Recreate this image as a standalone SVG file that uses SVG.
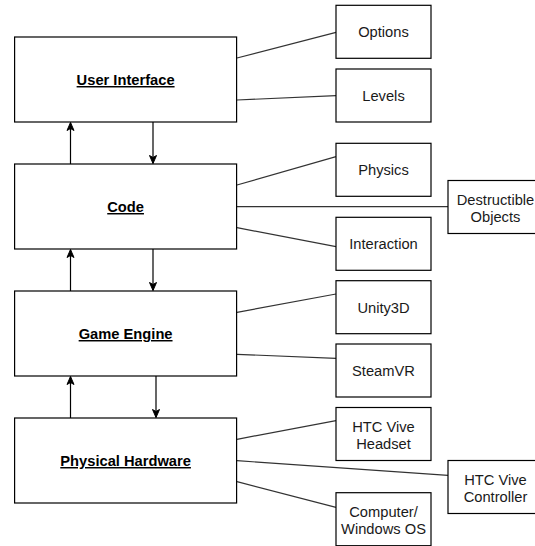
<svg xmlns="http://www.w3.org/2000/svg" width="535" height="546" viewBox="0 0 535 546">
<style>
  .box { fill: #ffffff; stroke: #000000; stroke-width: 1.2; }
  .main { font-family: "Liberation Sans", Arial, sans-serif; font-size: 14.7px; font-weight: bold; text-decoration: underline; fill: #000; text-anchor: middle; }
  .lbl { font-family: "Liberation Sans", Arial, sans-serif; font-size: 14.7px; fill: #1a1a1a; text-anchor: middle; }
  .link { stroke: #333333; stroke-width: 1.2; fill: none; }
  .arr { stroke: #000000; stroke-width: 1.2; fill: none; marker-end: url(#ah); }
</style>
<defs>
  <marker id="ah" markerWidth="10" markerHeight="10" viewBox="0 0 10 10" refX="9" refY="5" orient="auto" markerUnits="userSpaceOnUse">
    <path d="M1,1.5 L9,5 L1,8.5 L3,5 Z" fill="#000" stroke="#000" stroke-width="1"/>
  </marker>
</defs>
<rect width="535" height="546" fill="#ffffff"/>

<g id="connectors">
  <line class="link" x1="237" y1="58" x2="336" y2="32.3"/>
  <line class="link" x1="237" y1="100" x2="336" y2="95.7"/>
  <line class="link" x1="237" y1="185" x2="336" y2="156.7"/>
  <line class="link" x1="237" y1="206.7" x2="448" y2="206.7"/>
  <line class="link" x1="237" y1="227.7" x2="336" y2="246.7"/>
  <line class="link" x1="237" y1="312.3" x2="336" y2="294"/>
  <line class="link" x1="237" y1="354.3" x2="336" y2="358.3"/>
  <line class="link" x1="237" y1="439.3" x2="336" y2="420.7"/>
  <line class="link" x1="237" y1="460.7" x2="448" y2="475.3"/>
  <line class="link" x1="237" y1="481.7" x2="336" y2="507.3"/>
  <line class="arr" x1="70.5" y1="164" x2="70.5" y2="122.5"/>
  <line class="arr" x1="153" y1="122" x2="153" y2="163.5"/>
  <line class="arr" x1="70.5" y1="291" x2="70.5" y2="249.5"/>
  <line class="arr" x1="153" y1="249" x2="153" y2="290.5"/>
  <line class="arr" x1="70.5" y1="418" x2="70.5" y2="376.5"/>
  <line class="arr" x1="156" y1="376" x2="156" y2="417.5"/>
</g>

<g id="user-interface">
  <rect class="box" x="14.6" y="37" width="222" height="85"/>
  <text class="main" x="125.6" y="85">User Interface</text>
</g>
<g id="code">
  <rect class="box" x="14.6" y="164" width="222" height="85"/>
  <text class="main" x="125.6" y="212">Code</text>
</g>
<g id="game-engine">
  <rect class="box" x="14.6" y="291" width="222" height="85"/>
  <text class="main" x="125.6" y="339">Game Engine</text>
</g>
<g id="physical-hardware">
  <rect class="box" x="14.6" y="418" width="222" height="85"/>
  <text class="main" x="125.6" y="466">Physical Hardware</text>
</g>

<g id="options">
  <rect class="box" x="336" y="5.3" width="95" height="53"/>
  <text class="lbl" x="383.5" y="37.1">Options</text>
</g>
<g id="levels">
  <rect class="box" x="336" y="69" width="95" height="53"/>
  <text class="lbl" x="383.5" y="100.8">Levels</text>
</g>
<g id="physics">
  <rect class="box" x="336" y="143.3" width="95" height="53"/>
  <text class="lbl" x="383.5" y="175.1">Physics</text>
</g>
<g id="destructible-objects">
  <rect class="box" x="448" y="180.5" width="95" height="53"/>
  <text class="lbl" x="495.5" y="204.5">Destructible</text>
  <text class="lbl" x="495.5" y="221.5">Objects</text>
</g>
<g id="interaction">
  <rect class="box" x="336" y="217.3" width="95" height="53"/>
  <text class="lbl" x="383.5" y="249.1">Interaction</text>
</g>
<g id="unity3d">
  <rect class="box" x="336" y="280.7" width="95" height="53"/>
  <text class="lbl" x="383.5" y="312.5">Unity3D</text>
</g>
<g id="steamvr">
  <rect class="box" x="336" y="344" width="95" height="53"/>
  <text class="lbl" x="383.5" y="375.8">SteamVR</text>
</g>
<g id="htc-vive-headset">
  <rect class="box" x="336" y="407.5" width="95" height="53"/>
  <text class="lbl" x="383.5" y="431.7">HTC Vive</text>
  <text class="lbl" x="383.5" y="448.7">Headset</text>
</g>
<g id="htc-vive-controller">
  <rect class="box" x="448" y="460.5" width="95" height="53"/>
  <text class="lbl" x="495.5" y="484.7">HTC Vive</text>
  <text class="lbl" x="495.5" y="501.7">Controller</text>
</g>
<g id="computer-windows-os">
  <rect class="box" x="336" y="492.7" width="95" height="53"/>
  <text class="lbl" x="383.5" y="516.9">Computer/</text>
  <text class="lbl" x="383.5" y="533.9">Windows OS</text>
</g>
</svg>
